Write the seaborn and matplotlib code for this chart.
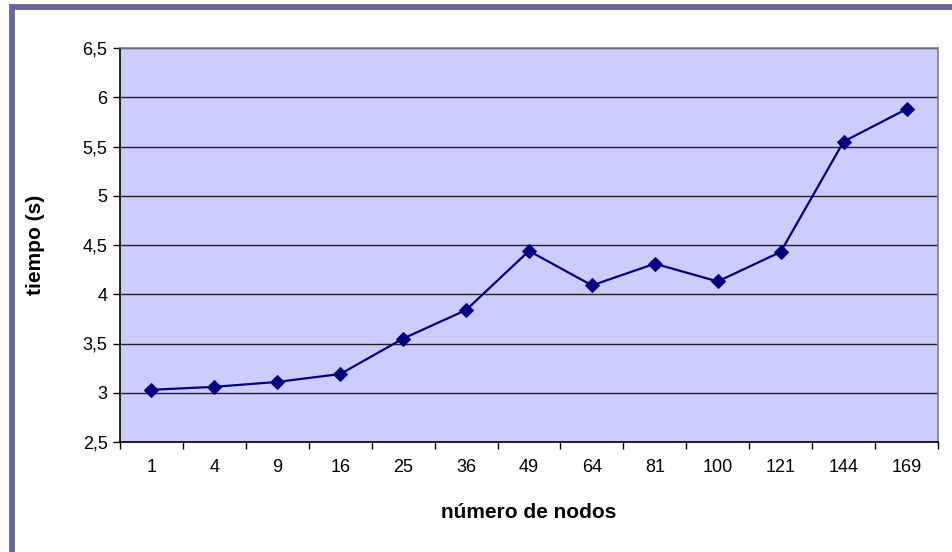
import numpy as np
import pandas as pd
import matplotlib
matplotlib.use("Agg")
import matplotlib.pyplot as plt
from matplotlib.patches import Rectangle
from matplotlib.ticker import FixedLocator, MultipleLocator, FuncFormatter
import seaborn as sns

# Execution time against number of nodes
nodos = ["1", "4", "9", "16", "25", "36", "49", "64", "81", "100", "121", "144", "169"]
tiempo = [3.03, 3.06, 3.11, 3.19, 3.55, 3.84, 4.44, 4.09, 4.31, 4.13, 4.43, 5.55, 5.88]

df = pd.DataFrame({"pos": np.arange(len(nodos)), "tiempo": tiempo})

sns.set_theme(style="white")
plt.rcParams["font.family"] = ["Liberation Sans", "DejaVu Sans"]
plt.rcParams["axes.labelcolor"] = "black"
plt.rcParams["text.color"] = "black"

fig = plt.figure(figsize=(9.52, 5.52), dpi=100)
fig.patch.set_facecolor("white")

# Outer chart frame
frame = Rectangle((11.5 / 952, -0.5), 2.0, 1.5 - 7.5 / 552,
                  transform=fig.transFigure, fill=False,
                  edgecolor="#666699", linewidth=4.2)
fig.add_artist(frame)

ax = fig.add_axes([120 / 952, (552 - 442) / 552, (938 - 120) / 952, (442 - 48) / 552])
ax.set_facecolor("#CCCCFF")

sns.lineplot(data=df, x="pos", y="tiempo", ax=ax, color="#000080",
             linewidth=1.6, marker="D", markersize=7,
             markeredgecolor="#000080", markerfacecolor="#000080")

ax.set_xlim(-0.5, len(nodos) - 0.5)
ax.set_ylim(2.5, 6.5)

# Horizontal gridlines
ax.yaxis.set_major_locator(MultipleLocator(0.5))
ax.yaxis.set_major_formatter(FuncFormatter(lambda v, p: f"{v:g}".replace(".", ",")))
ax.grid(axis="y", color="#222222", linewidth=1.0)
ax.grid(axis="x", visible=False)
ax.set_axisbelow(True)

# Category labels centered, tick marks at category boundaries
ax.xaxis.set_major_locator(FixedLocator(df["pos"].tolist()))
ax.set_xticklabels(nodos)
ax.xaxis.set_minor_locator(FixedLocator(np.arange(-0.5, len(nodos), 1.0)))
ax.tick_params(axis="x", which="major", length=0, pad=12, labelsize=13, colors="black")
ax.tick_params(axis="x", which="minor", bottom=True, length=5, width=1, color="black")
ax.tick_params(axis="y", which="major", left=True, length=5, width=1, color="black",
               pad=4, labelsize=13, labelcolor="black")

for side in ["left", "bottom"]:
    ax.spines[side].set_color("black")
    ax.spines[side].set_linewidth(1.2)
for side in ["right", "top"]:
    ax.spines[side].set_color("#808080")
    ax.spines[side].set_linewidth(1.2)
    ax.spines[side].set_visible(True)

ax.set_xlabel("número de nodos", fontsize=15, fontweight="bold", labelpad=20, color="black")
ax.set_ylabel("tiempo (s)", fontsize=15, fontweight="bold", labelpad=27, color="black")

fig.savefig("out.png", dpi=100)
